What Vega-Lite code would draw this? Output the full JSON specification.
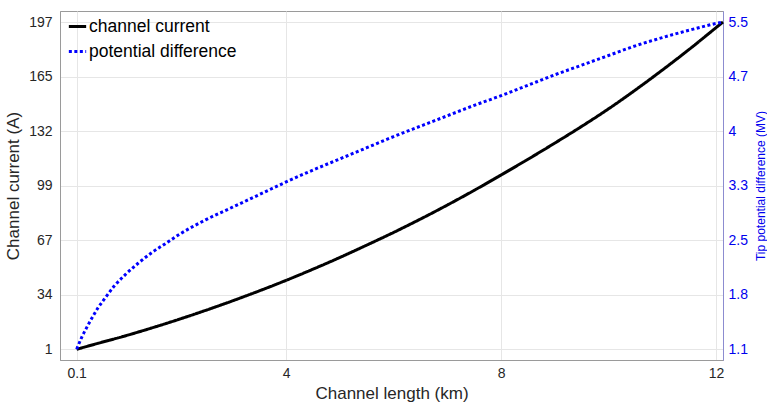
{
  "$schema": "https://vega.github.io/schema/vega-lite/v6.json",
  "autosize": {"type": "none"},
  "padding": {"left": 60, "top": 11, "right": 44, "bottom": 47},
  "width": 663,
  "height": 349,
  "background": "white",
  "config": {
    "view": {"stroke": "#9a9a9a", "strokeWidth": 1},
    "axis": {
      "labelFont": "Liberation Sans",
      "titleFont": "Liberation Sans",
      "labelFontSize": 14,
      "titleFontSize": 17,
      "titleFontWeight": "normal",
      "labelColor": "#262626",
      "titleColor": "#262626",
      "gridColor": "#e6e6e6",
      "domainColor": "#9a9a9a",
      "ticks": false
    }
  },
  "datasets": {
    "current": [
      {"x": 0.1, "y": 1, "series": "channel current"},
      {"x": 0.5, "y": 4.6, "series": "channel current"},
      {"x": 1, "y": 9, "series": "channel current"},
      {"x": 1.5, "y": 13.8, "series": "channel current"},
      {"x": 2, "y": 18.9, "series": "channel current"},
      {"x": 2.5, "y": 24.3, "series": "channel current"},
      {"x": 3, "y": 30, "series": "channel current"},
      {"x": 3.5, "y": 36, "series": "channel current"},
      {"x": 4, "y": 42.3, "series": "channel current"},
      {"x": 4.5, "y": 49, "series": "channel current"},
      {"x": 5, "y": 56, "series": "channel current"},
      {"x": 5.5, "y": 63.4, "series": "channel current"},
      {"x": 6, "y": 71, "series": "channel current"},
      {"x": 6.5, "y": 79, "series": "channel current"},
      {"x": 7, "y": 87.4, "series": "channel current"},
      {"x": 7.5, "y": 96.2, "series": "channel current"},
      {"x": 8, "y": 105.4, "series": "channel current"},
      {"x": 8.5, "y": 114.8, "series": "channel current"},
      {"x": 9, "y": 124.5, "series": "channel current"},
      {"x": 9.5, "y": 134.5, "series": "channel current"},
      {"x": 10, "y": 145, "series": "channel current"},
      {"x": 10.5, "y": 156.3, "series": "channel current"},
      {"x": 11, "y": 168.2, "series": "channel current"},
      {"x": 11.5, "y": 180.6, "series": "channel current"},
      {"x": 12, "y": 193.6, "series": "channel current"},
      {"x": 12.13, "y": 197, "series": "channel current"}
    ],
    "potential": [
      {"x": 0.1, "v": 1.1, "series": "potential difference"},
      {"x": 0.2, "v": 1.27, "series": "potential difference"},
      {"x": 0.3, "v": 1.41, "series": "potential difference"},
      {"x": 0.4, "v": 1.54, "series": "potential difference"},
      {"x": 0.5, "v": 1.66, "series": "potential difference"},
      {"x": 0.6, "v": 1.76, "series": "potential difference"},
      {"x": 0.8, "v": 1.95, "series": "potential difference"},
      {"x": 1.0, "v": 2.1, "series": "potential difference"},
      {"x": 1.25, "v": 2.26, "series": "potential difference"},
      {"x": 1.5, "v": 2.4, "series": "potential difference"},
      {"x": 1.75, "v": 2.52, "series": "potential difference"},
      {"x": 2.0, "v": 2.64, "series": "potential difference"},
      {"x": 2.5, "v": 2.84, "series": "potential difference"},
      {"x": 3.0, "v": 3.01, "series": "potential difference"},
      {"x": 3.5, "v": 3.18, "series": "potential difference"},
      {"x": 4.0, "v": 3.35, "series": "potential difference"},
      {"x": 4.5, "v": 3.51, "series": "potential difference"},
      {"x": 5.0, "v": 3.66, "series": "potential difference"},
      {"x": 5.5, "v": 3.81, "series": "potential difference"},
      {"x": 6.0, "v": 3.96, "series": "potential difference"},
      {"x": 6.5, "v": 4.1, "series": "potential difference"},
      {"x": 7.0, "v": 4.24, "series": "potential difference"},
      {"x": 7.5, "v": 4.38, "series": "potential difference"},
      {"x": 8.0, "v": 4.51, "series": "potential difference"},
      {"x": 8.5, "v": 4.65, "series": "potential difference"},
      {"x": 9.0, "v": 4.79, "series": "potential difference"},
      {"x": 9.5, "v": 4.92, "series": "potential difference"},
      {"x": 10.0, "v": 5.05, "series": "potential difference"},
      {"x": 10.5, "v": 5.18, "series": "potential difference"},
      {"x": 11.0, "v": 5.29, "series": "potential difference"},
      {"x": 11.5, "v": 5.39, "series": "potential difference"},
      {"x": 12.0, "v": 5.48, "series": "potential difference"},
      {"x": 12.13, "v": 5.5, "series": "potential difference"}
    ]
  },
  "layer": [
    {
      "data": {"name": "current"},
      "mark": {"type": "line", "strokeWidth": 3, "interpolate": "monotone", "strokeCap": "butt"},
      "encoding": {
        "x": {
          "field": "x", "type": "quantitative",
          "scale": {"domain": [-0.21, 12.13], "nice": false, "zero": false},
          "axis": {"title": "Channel length (km)", "values": [0.1, 4, 8, 12], "format": "~g", "labelPadding": 6, "titlePadding": 5, "grid": true}
        },
        "y": {
          "field": "y", "type": "quantitative",
          "scale": {"domain": [-5.41, 203.59], "nice": false, "zero": false},
          "axis": {
            "title": "Channel current (A)",
            "values": [1, 33.667, 66.333, 99, 131.667, 164.333, 197],
            "labelExpr": "datum.value < 10 ? '1' : datum.value < 50 ? '34' : datum.value < 80 ? '67' : datum.value < 110 ? '99' : datum.value < 150 ? '132' : datum.value < 180 ? '165' : '197'",
            "labelPadding": 8, "titlePadding": 6, "grid": true
          }
        },
        "color": {
          "field": "series", "type": "nominal",
          "scale": {"domain": ["channel current", "potential difference"], "range": ["#000000", "#0000ff"]},
          "legend": {"title": null, "orient": "none", "legendX": 7, "legendY": 5, "labelFont": "Liberation Sans", "labelFontSize": 17.5, "labelColor": "#000000", "symbolType": "stroke", "symbolSize": 300, "symbolStrokeWidth": 3, "rowPadding": 6, "labelOffset": 1, "padding": 0}
        },
        "strokeDash": {
          "field": "series", "type": "nominal",
          "scale": {"domain": ["channel current", "potential difference"], "range": [[1, 0], [3, 2.5]]},
          "legend": {"title": null, "orient": "none", "legendX": 7, "legendY": 5, "labelFont": "Liberation Sans", "labelFontSize": 17.5, "labelColor": "#000000", "symbolType": "stroke", "symbolSize": 300, "symbolStrokeWidth": 3, "rowPadding": 6, "labelOffset": 1, "padding": 0}
        }
      }
    },
    {
      "data": {"name": "potential"},
      "mark": {"type": "line", "strokeWidth": 3, "interpolate": "monotone", "strokeCap": "butt"},
      "encoding": {
        "x": {"field": "x", "type": "quantitative"},
        "y": {
          "field": "v", "type": "quantitative",
          "scale": {"domain": [0.956, 5.648], "nice": false, "zero": false},
          "axis": {
            "orient": "right",
            "title": "Tip potential difference (MV)",
            "titleFontSize": 12,
            "titleColor": "#0000ee",
            "titleAngle": 270,
            "titleBaseline": "top",
            "labelColor": "#0000ee",
            "domainColor": "#8c8cd0",
            "values": [1.1, 1.8333, 2.5667, 3.3, 4.0333, 4.7667, 5.5],
            "labelExpr": "datum.value < 1.5 ? '1.1' : datum.value < 2.2 ? '1.8' : datum.value < 2.9 ? '2.5' : datum.value < 3.6 ? '3.3' : datum.value < 4.4 ? '4' : datum.value < 5.1 ? '4.7' : '5.5'",
            "labelPadding": 5, "titlePadding": 8, "grid": false
          }
        },
        "color": {"field": "series", "type": "nominal"},
        "strokeDash": {"field": "series", "type": "nominal"}
      }
    }
  ],
  "resolve": {"scale": {"y": "independent"}}
}
